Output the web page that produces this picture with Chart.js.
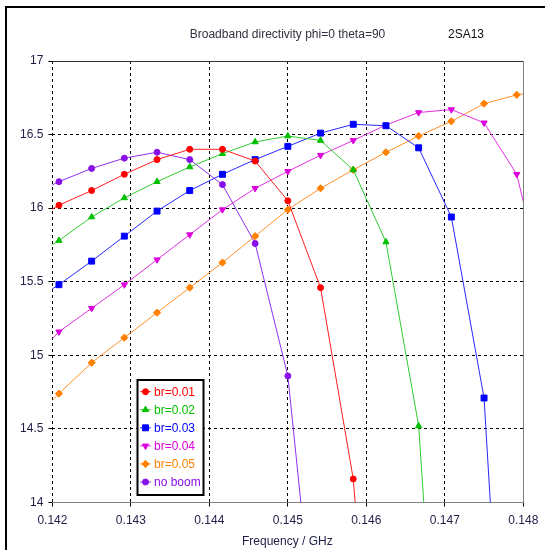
<!DOCTYPE html>
<html><head><meta charset="utf-8">
<script src="https://cdn.jsdelivr.net/npm/chart.js@4/dist/chart.umd.min.js"></script>
<style>html,body{margin:0;padding:0;background:#fff}canvas{display:block}</style>
</head><body>
<canvas id="c" width="545" height="550"></canvas>
<script>
// ---- data ----
const freqs = [0.1416667, 0.1420833, 0.1425, 0.1429167, 0.1433333, 0.14375, 0.1441667, 0.1445833, 0.145, 0.1454167, 0.1458333, 0.14625, 0.1466667, 0.1470833, 0.1475, 0.1479167, 0.1483333];
const br001  = [15.89, 16.02, 16.12, 16.23, 16.33, 16.40, 16.40, 16.32, 16.05, 15.46, 14.16, 11.4, null, null, null, null, null];
const br002  = [15.64, 15.78, 15.94, 16.07, 16.18, 16.28, 16.37, 16.45, 16.49, 16.46, 16.26, 15.77, 14.52, 11.2, null, null, null];
const br003  = [15.34, 15.48, 15.64, 15.81, 15.98, 16.12, 16.23, 16.33, 16.42, 16.51, 16.57, 16.56, 16.41, 15.94, 14.71, 11.0, null];
const br004  = [14.93, 15.16, 15.32, 15.48, 15.65, 15.82, 15.99, 16.135, 16.25, 16.36, 16.46, 16.565, 16.65, 16.67, 16.58, 16.23, 15.3];
const br005  = [14.51, 14.74, 14.95, 15.12, 15.29, 15.46, 15.63, 15.81, 15.99, 16.135, 16.26, 16.38, 16.49, 16.59, 16.71, 16.77, 16.80];
const noBoom = [16.07, 16.18, 16.27, 16.34, 16.38, 16.33, 16.16, 15.76, 14.86, 12.7, null, null, null, null, null, null, null];
const seriesNames = ['br=0.01', 'br=0.02', 'br=0.03', 'br=0.04', 'br=0.05', 'no boom'];
const xTickLabels = ['0.142', '0.143', '0.144', '0.145', '0.146', '0.147', '0.148'];
const yTickLabels = ['14', '14.5', '15', '15.5', '16', '16.5', '17'];
const titleText = 'Broadband directivity phi=0 theta=90';
const tagText = '2SA13';
const xAxisTitle = 'Frequency / GHz';

// ---- styles ----
const FONT = "'Liberation Sans', Arial, sans-serif";
const TXT = '#1e1e46';
const styles = [
  {color: '#ff0000', line: '#ff2020', pointStyle: 'circle',   radius: 3,   rotation: 0},
  {color: '#00c000', line: '#30cc30', pointStyle: 'triangle', radius: 3.6, rotation: 0},
  {color: '#0000ff', line: '#2828ff', pointStyle: 'rect',     radius: 4.2, rotation: 0},
  {color: '#dd00dd', line: '#e030e0', pointStyle: 'triangle', radius: 3.6, rotation: 180},
  {color: '#ff8000', line: '#ff9028', pointStyle: 'rectRot',  radius: 3.6, rotation: 0},
  {color: '#8a10e8', line: '#9030f0', pointStyle: 'circle',   radius: 3,   rotation: 0}
];
const seriesValues = [br001, br002, br003, br004, br005, noBoom];

const datasets = seriesValues.map((vals, i) => ({
  label: seriesNames[i],
  data: vals.map((v, k) => ({x: freqs[k], y: v})),
  borderColor: styles[i].line,
  backgroundColor: styles[i].color,
  pointBackgroundColor: styles[i].color,
  pointBorderColor: styles[i].color,
  pointBorderWidth: 1,
  pointStyle: styles[i].pointStyle,
  pointRadius: styles[i].radius,
  pointRotation: styles[i].rotation,
  pointHoverRadius: styles[i].radius,
  borderWidth: 1,
  tension: 0,
  fill: false
}));

function drawMarker(ctx, st, x, y) {
  const h = Chart.helpers;
  ctx.fillStyle = st.color;
  ctx.strokeStyle = st.color;
  ctx.lineWidth = 1;
  if (h && h.drawPoint) {
    h.drawPoint(ctx, {pointStyle: st.pointStyle, radius: st.radius, rotation: st.rotation, borderWidth: 1}, x, y);
  } else {
    ctx.beginPath(); ctx.arc(x, y, st.radius, 0, Math.PI * 2); ctx.fill();
  }
}

const decor = {
  id: 'decor',
  afterDraw(chart) {
    const ctx = chart.ctx;
    const a = chart.chartArea;
    ctx.save();
    // plot frame: top and right
    ctx.lineWidth = 1;
    ctx.strokeStyle = '#303030';
    ctx.beginPath(); ctx.moveTo(a.left, Math.round(a.top) + 0.5); ctx.lineTo(a.right, Math.round(a.top) + 0.5); ctx.stroke();
    ctx.strokeStyle = '#808080';
    ctx.beginPath(); ctx.moveTo(Math.round(a.right) + 0.5, a.top); ctx.lineTo(Math.round(a.right) + 0.5, a.bottom); ctx.stroke();
    // outer window border (left and top)
    ctx.fillStyle = '#000';
    ctx.fillRect(5, 6, 2, 544);
    ctx.fillRect(5, 6, 540, 2);
    // titles
    ctx.font = '12px ' + FONT;
    ctx.textBaseline = 'middle';
    ctx.textAlign = 'center';
    ctx.fillStyle = '#303040';
    ctx.fillText(titleText, 287.5, 35);
    ctx.fillStyle = '#101010';
    ctx.fillText(tagText, 466, 35);
    ctx.fillStyle = TXT;
    ctx.fillText(xAxisTitle, (a.left + a.right) / 2 - 0.5, 542);
    // legend
    const bx = 137.5, by = 380, bw = 66, bh = 115;
    ctx.fillStyle = '#fff';
    ctx.fillRect(bx, by, bw, bh);
    ctx.strokeStyle = '#000';
    ctx.lineWidth = 2;
    ctx.strokeRect(bx, by, bw, bh);
    ctx.textAlign = 'left';
    chart.data.datasets.forEach((ds, i) => {
      const y = 391.7 + i * 18.06;
      const st = styles[i];
      ctx.strokeStyle = st.line;
      ctx.lineWidth = 1;
      ctx.beginPath(); ctx.moveTo(140, y); ctx.lineTo(151, y); ctx.stroke();
      drawMarker(ctx, st, 145.5, y);
      ctx.fillStyle = st.color;
      ctx.font = '12px ' + FONT;
      ctx.fillText(ds.label, 154, y + 0.5);
    });
    ctx.restore();
  }
};

new Chart(document.getElementById('c'), {
  type: 'line',
  data: {datasets},
  options: {
    responsive: false,
    animation: false,
    devicePixelRatio: 1,
    events: [],
    layout: {padding: {top: 61, right: 21.7, left: 0, bottom: 0}},
    plugins: {legend: {display: false}, tooltip: {enabled: false}, title: {display: false}},
    scales: {
      x: {
        type: 'linear',
        min: 0.142, max: 0.148,
        afterFit: s => { s.height = 47.5; },
        afterBuildTicks: s => { s.ticks = xTickLabels.map(t => ({value: parseFloat(t)})); },
        ticks: {
          callback: (v, i) => xTickLabels[i],
          font: {family: FONT, size: 12}, color: TXT, padding: 6.5, maxRotation: 0, autoSkip: false
        },
        grid: {
          color: c => (c.index === xTickLabels.length - 1 ? 'rgba(0,0,0,0)' : '#000'),
          lineWidth: 1, drawTicks: true, tickLength: 4, tickColor: '#000', tickWidth: 1
        },
        border: {display: true, color: '#808080', width: 1, dash: [3, 3]}
      },
      y: {
        type: 'linear',
        min: 14, max: 17,
        afterFit: s => { s.width = 52.4; },
        afterBuildTicks: s => { s.ticks = yTickLabels.map(t => ({value: parseFloat(t)})); },
        ticks: {
          callback: (v, i) => yTickLabels[i],
          font: {family: FONT, size: 12}, color: TXT, padding: 5, autoSkip: false
        },
        grid: {
          color: c => ((c.index === 0 || c.index === yTickLabels.length - 1) ? 'rgba(0,0,0,0)' : '#000'),
          lineWidth: 1, drawTicks: true, tickLength: 4, tickColor: '#000', tickWidth: 1
        },
        border: {display: false, dash: [3, 3]}
      }
    }
  },
  plugins: [decor]
});
</script>
</body></html>
